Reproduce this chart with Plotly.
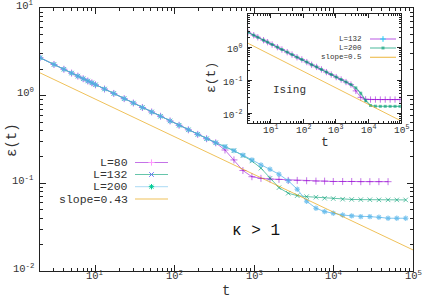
import math
import plotly.graph_objects as go

# ---------------- data ----------------
t_main = [2, 3, 4, 5, 6, 7, 8, 9, 10, 13, 17, 23, 30, 39, 51, 66, 87, 113, 148, 194, 251,
          327, 428, 555, 720, 935, 1215, 1580, 2050, 2680, 3480, 4570, 5990, 7700, 9900,
          13000, 16900, 22000, 28600, 37200, 48500, 62500, 81000]
eps_common = [2.71, 2.27, 2.00, 1.81, 1.67, 1.56, 1.47, 1.40, 1.33, 1.19, 1.06, 0.925, 0.824,
              0.733, 0.652, 0.582, 0.515, 0.459, 0.408, 0.362, 0.323]
eps_L80_tail = [0.29, 0.24, 0.185, 0.140, 0.119, 0.114, 0.112, 0.111, 0.108, 0.108, 0.107,
                0.106, 0.106, 0.105, 0.105, 0.105, 0.1045, 0.1045, 0.1045, 0.1045]
eps_L132_tail = [0.29, 0.262, 0.236, 0.207, 0.180, 0.149, 0.114, 0.0893, 0.0771, 0.0724,
                 0.0705, 0.0695, 0.0676, 0.0670, 0.0659, 0.0655, 0.0652, 0.0650, 0.0648,
                 0.0648, 0.0647, 0.0647]
eps_L200_tail = [0.29, 0.262, 0.236, 0.210, 0.185, 0.162, 0.145, 0.127, 0.107, 0.0857,
                 0.0625, 0.052, 0.0476, 0.0456, 0.0436, 0.0425, 0.0417, 0.0417, 0.041,
                 0.040, 0.040, 0.040]
eps_L80 = eps_common + eps_L80_tail
eps_L132 = eps_common + eps_L132_tail
eps_L200 = eps_common + eps_L200_tail
slope_t = [2, 100000]
slope_eps = [1.82, 0.0174]

t_inset = [2, 3, 4, 6, 8, 11, 16, 22, 32, 45, 64, 90, 128, 180, 256, 360, 512, 720, 1024,
           1450, 2050, 2900, 4100, 5800, 8200, 11600, 16400, 23200, 32800, 46400, 65600, 92800]
inset_common = [2.79, 2.28, 1.97, 1.61, 1.40, 1.19, 0.99, 0.84, 0.70, 0.59, 0.49, 0.42, 0.35,
                0.29, 0.25, 0.21, 0.174, 0.147, 0.123, 0.104, 0.087, 0.073]
inset_L132 = inset_common + [0.047, 0.030, 0.0262, 0.0257, 0.0257, 0.0257, 0.0257, 0.0257,
                             0.0257, 0.0257]
inset_L200 = inset_common + [0.058, 0.040, 0.024, 0.017, 0.0162, 0.016, 0.016, 0.016, 0.016,
                             0.016]
inset_slope_t = [2, 100000]
inset_slope_eps = [1.3, 0.0058]

main_labels = ["L=80", "L=132", "L=200", "slope=0.43"]
inset_labels = ["L=132", "L=200", "slope=0.5"]
x_tick_vals = [10, 100, 1000, 10000, 100000]
x_tick_text = ["10<sup>1</sup>", "10<sup>2</sup>", "10<sup>3</sup>", "10<sup>4</sup>",
               "10<sup>5</sup>"]
y_tick_vals = [0.01, 0.1, 1, 10]
y_tick_text = ["10<sup>-2</sup>", "10<sup>-1</sup>", "10<sup>0</sup>", "10<sup>1</sup>"]

# ---------------- styling / geometry ----------------
W, H = 425, 298
PURPLE = "rgba(148,0,211,0.55)"
GREEN = "rgba(0,158,115,0.6)"
BLUE = "rgba(86,180,233,0.75)"
ORANGE = "rgba(230,159,0,0.65)"
MONO = "Liberation Mono"
TXT = "#333333"
FRAME = "#222222"

MAIN_X = (40, 413)
MAIN_Y = (8, 271)      # top, bottom in pixels
INS_X = (248, 401)
INS_Y = (14, 123)
XR = (math.log10(2), 5)
MAIN_YR = (-2, 1)
INS_YR = (-2.3, 1)


def fx(x):
    return x / W


def fy(y):
    return 1 - y / H


def minor_vals(lo, hi):
    vals = []
    for k in range(lo, hi):
        for m in range(2, 10):
            vals.append(m * 10 ** k)
    return vals


def note(x, y, text, size, xanchor="center", color=TXT, angle=0):
    return dict(x=fx(x), y=fy(y), xref="paper", yref="paper", text=text, showarrow=False,
                xanchor=xanchor, yanchor="middle", textangle=angle,
                font=dict(family=MONO, size=size, color=color))


fig = go.Figure()

# main traces
fig.add_trace(go.Scatter(x=t_main[:len(eps_L80)], y=eps_L80, mode="lines+markers",
                         line=dict(color=PURPLE, width=1),
                         marker=dict(symbol="cross-thin-open", size=5,
                                     line=dict(color=PURPLE, width=1)),
                         xaxis="x", yaxis="y", showlegend=False))
fig.add_trace(go.Scatter(x=t_main, y=eps_L132, mode="lines+markers",
                         line=dict(color=GREEN, width=1),
                         marker=dict(symbol="x-thin-open", size=4.5,
                                     line=dict(color=GREEN, width=1)),
                         xaxis="x", yaxis="y", showlegend=False))
fig.add_trace(go.Scatter(x=t_main, y=eps_L200, mode="lines+markers",
                         line=dict(color=BLUE, width=1),
                         marker=dict(symbol="asterisk-open", size=4.5,
                                     line=dict(color=BLUE, width=1.1)),
                         xaxis="x", yaxis="y", showlegend=False))
fig.add_trace(go.Scatter(x=slope_t, y=slope_eps, mode="lines",
                         line=dict(color=ORANGE, width=1),
                         xaxis="x", yaxis="y", showlegend=False))

# inset traces
fig.add_trace(go.Scatter(x=t_inset, y=inset_L132, mode="lines+markers",
                         line=dict(color=PURPLE, width=1),
                         marker=dict(symbol="cross-thin-open", size=4.5,
                                     line=dict(color=PURPLE, width=1)),
                         xaxis="x2", yaxis="y2", showlegend=False))
fig.add_trace(go.Scatter(x=t_inset, y=inset_L200, mode="lines+markers",
                         line=dict(color=GREEN, width=1.2),
                         marker=dict(symbol="square", size=3, color=GREEN,
                                     line=dict(width=0)),
                         xaxis="x2", yaxis="y2", showlegend=False))
fig.add_trace(go.Scatter(x=inset_slope_t, y=inset_slope_eps, mode="lines",
                         line=dict(color=ORANGE, width=1),
                         xaxis="x2", yaxis="y2", showlegend=False))

# ---------------- manual legends (text left of sample, gnuplot style) ----------------
main_rows = [162.5, 174.5, 186.7, 199]
main_styles = [(PURPLE, "cross-thin-open"), (GREEN, "x-thin-open"),
               ("rgba(86,180,233,0.4)", "asterisk-open"), (ORANGE, None)]
annotations = []
for lab, yr, (col, sym) in zip(main_labels, main_rows, main_styles):
    annotations.append(note(129.5, yr, lab, 11.5, xanchor="right"))
    fig.add_trace(go.Scatter(x=[fx(135), fx(168)], y=[fy(yr), fy(yr)], mode="lines",
                             line=dict(color=col, width=1.2), xaxis="x3", yaxis="y3",
                             showlegend=False, hoverinfo="skip"))
    if sym:
        fig.add_trace(go.Scatter(x=[fx(151.5)], y=[fy(yr)], mode="markers",
                                 marker=dict(symbol=sym, size=4.5,
                                             line=dict(color=col, width=1)),
                                 xaxis="x3", yaxis="y3", showlegend=False, hoverinfo="skip"))

inset_rows = [39, 48, 57.3]
inset_styles = [(PURPLE, "cross-thin-open"), (GREEN, "square"), (ORANGE, None)]
for lab, yr, (col, sym) in zip(inset_labels, inset_rows, inset_styles):
    annotations.append(note(364, yr, lab, 7.5, xanchor="right"))
    fig.add_trace(go.Scatter(x=[fx(370), fx(396)], y=[fy(yr), fy(yr)], mode="lines",
                             line=dict(color=col, width=1.2), xaxis="x3", yaxis="y3",
                             showlegend=False, hoverinfo="skip"))
    if sym == "square":
        mk = dict(symbol="square", size=3, color=col, line=dict(width=0))
    elif sym:
        mk = dict(symbol=sym, size=4, line=dict(color=col, width=1))
    if sym:
        fig.add_trace(go.Scatter(x=[fx(383)], y=[fy(yr)], mode="markers", marker=mk,
                                 xaxis="x3", yaxis="y3", showlegend=False, hoverinfo="skip"))


# tick labels placed as annotations (gnuplot-like positions)
def xpix(t, xpx):
    return xpx[0] + (math.log10(t) - XR[0]) / (XR[1] - XR[0]) * (xpx[1] - xpx[0])


def ypix(v, ypx, yr):
    return ypx[1] - (math.log10(v) - yr[0]) / (yr[1] - yr[0]) * (ypx[1] - ypx[0])


for v, txt in zip(x_tick_vals, x_tick_text):
    annotations.append(note(xpix(v, MAIN_X), 275, txt, 10.5))
    annotations.append(note(xpix(v, INS_X), 130, txt, 9.5))
for v, txt in zip(y_tick_vals, y_tick_text):
    annotations.append(note(36, ypix(v, MAIN_Y, MAIN_YR) - 3, txt, 10.5, xanchor="right"))
    if v < 5:
        annotations.append(note(244, ypix(v, INS_Y, INS_YR) + 1, txt, 9.5, xanchor="right"))

# text annotations
annotations += [
    note(226, 291, "t", 14),
    note(12, 140, "ε(t)", 14, angle=-90),
    note(325, 142, "t", 13),
    note(212, 78, "ε(t)", 13, angle=-90),
    note(289, 90, "Ising", 11),
    note(256, 231, "κ > 1", 16, color="#111111"),
]

axis_common = dict(type="log", showgrid=False, zeroline=False, showline=True,
                   linecolor=FRAME, linewidth=1, mirror="allticks", ticks="inside",
                   tickcolor=FRAME, tickmode="array", showticklabels=False,
                   automargin=False)

fig.update_layout(
    width=W, height=H, margin=dict(l=0, r=0, t=0, b=0),
    paper_bgcolor="white", plot_bgcolor="rgba(0,0,0,0)",
    xaxis=dict(axis_common, domain=[fx(MAIN_X[0]), fx(MAIN_X[1])], range=list(XR),
               anchor="y", tickvals=x_tick_vals, ticklen=6,
               minor=dict(tickmode="array", tickvals=minor_vals(0, 5), ticks="inside",
                          ticklen=3, tickcolor=FRAME)),
    yaxis=dict(axis_common, domain=[fy(MAIN_Y[1]), fy(MAIN_Y[0])], range=list(MAIN_YR),
               anchor="x", tickvals=y_tick_vals, ticklen=6,
               minor=dict(tickmode="array", tickvals=minor_vals(-2, 1), ticks="inside",
                          ticklen=3, tickcolor=FRAME)),
    xaxis2=dict(axis_common, domain=[fx(INS_X[0]), fx(INS_X[1])], range=list(XR),
                anchor="y2", tickvals=x_tick_vals, ticklen=4,
                minor=dict(tickmode="array", tickvals=minor_vals(0, 5), ticks="inside",
                           ticklen=2, tickcolor=FRAME)),
    yaxis2=dict(axis_common, domain=[fy(INS_Y[1]), fy(INS_Y[0])], range=list(INS_YR),
                anchor="x2", tickvals=y_tick_vals[:3], ticklen=4,
                minor=dict(tickmode="array", tickvals=minor_vals(-3, 1), ticks="inside",
                           ticklen=2, tickcolor=FRAME)),
    xaxis3=dict(domain=[0, 1], range=[0, 1], visible=False, anchor="y3", fixedrange=True),
    yaxis3=dict(domain=[0, 1], range=[0, 1], visible=False, anchor="x3", fixedrange=True),
    annotations=annotations,
    showlegend=False,
)

fig.write_html("out.html", config={"displayModeBar": False},
               post_script="document.body.style.margin='0px';")
